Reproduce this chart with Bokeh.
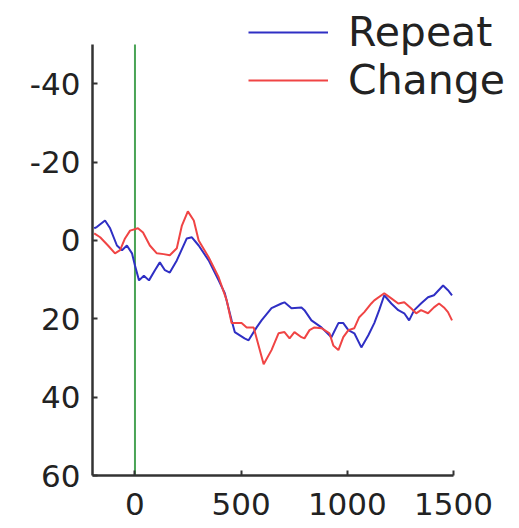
from bokeh.plotting import figure
from bokeh.models import Range1d, FixedTicker, Legend, LegendItem
from bokeh.embed import file_html
from bokeh.resources import INLINE

# Data (time in ms, amplitude)
repeat_x = [-192, -180, -141, -117, -85, -61, -38, -14, 0, 19, 42, 66, 94, 117, 141, 164, 197,
            244, 268, 300, 347, 394, 423, 455, 470, 516, 535, 573, 596, 643, 690, 704, 737,
            784, 798, 831, 878, 925, 958, 981, 1005, 1033, 1066, 1099, 1127, 1150, 1174,
            1207, 1240, 1268, 1291, 1315, 1347, 1380, 1408, 1451, 1474, 1493]
repeat_y = [-3.1, -3.4, -5.1, -3.1, 1.3, 2.5, 1.3, 3.3, 6.4, 10.2, 9.0, 10.2, 7.6, 5.6, 7.6, 8.2, 5.1,
            -0.5, -0.8, 1.3, 5.1, 10.2, 13.5, 20.4, 23.4, 25.0, 25.5, 22.2, 20.4, 17.3, 16.1, 15.8, 17.3,
            17.1, 17.8, 20.4, 22.2, 24.7, 21.1, 21.1, 22.9, 23.7, 27.3, 24.2, 21.1, 17.8, 14.0,
            16.1, 17.8, 18.6, 20.4, 17.8, 16.1, 14.5, 14.0, 11.5, 12.7, 14.0]

change_x = [-192, -164, -127, -94, -70, -47, -23, 14, 38, 70, 103, 135, 164, 197, 221, 249, 277,
            300, 347, 394, 432, 455, 502, 526, 559, 582, 606, 643, 676, 704, 728, 751, 784,
            798, 822, 845, 878, 916, 934, 958, 981, 1005, 1033, 1056, 1080, 1113, 1127, 1174,
            1207, 1240, 1268, 1300, 1324, 1347, 1380, 1408, 1432, 1455, 1474, 1493]
change_y = [-1.8, -0.8, 1.3, 3.3, 2.5, -0.5, -2.5, -3.1, -2.0, 1.3, 3.3, 3.5, 3.8, 2.0, -3.8, -7.4, -5.1,
            0.0, 4.3, 9.4, 15.3, 21.1, 21.1, 22.2, 22.2, 26.8, 31.6, 28.0, 23.7, 23.4, 25.0, 23.4, 24.7,
            25.0, 22.9, 22.2, 22.4, 23.7, 26.8, 28.0, 24.7, 22.9, 22.4, 19.6, 18.3, 16.1, 15.3, 13.5,
            14.8, 16.1, 15.8, 17.3, 18.6, 17.8, 18.6, 17.1, 16.1, 17.1, 18.3, 20.4]

x_ticks = [0, 500, 1000, 1500]
x_tick_labels = ["0", "500", "1000", "1500"]
y_ticks = [-40, -20, 0, 20, 40, 60]
y_tick_labels = ["-40", "-20", "0", "20", "40", "60"]
series_labels = ["Repeat", "Change"]
series_colors = ["#2f2fc4", "#f04444"]
x_limits = (-200, 1500)
y_limits = (-50, 60)          # axis extent (negative up)
stim_onset = 0

FONT = "DejaVu Sans"
W, H = 519, 528
BORDER_L, BORDER_B = 92, 53
TOP_PAD = 44                  # empty space above the y axis (kept inside the frame for the legend)
RIGHT_PAD = 66                # empty space right of the x axis (kept inside the frame for the legend)

frame_h = H - BORDER_B
axis_h = frame_h - TOP_PAD
y_span = y_limits[1] - y_limits[0]
y_top = y_limits[0] - y_span * TOP_PAD / axis_h

frame_w = W - BORDER_L
axis_w = frame_w - RIGHT_PAD
x_span = x_limits[1] - x_limits[0]
x_right = x_limits[1] + x_span * RIGHT_PAD / axis_w

p = figure(width=W, height=H, output_backend="svg", toolbar_location=None,
           x_range=Range1d(x_limits[0], x_right), y_range=Range1d(y_limits[1], y_top),
           min_border_left=BORDER_L, min_border_right=0, min_border_top=0,
           min_border_bottom=BORDER_B)

p.outline_line_color = None
p.xgrid.visible = False
p.ygrid.visible = False
p.background_fill_color = "white"

for ax, ticks, labels, standoff in ((p.xaxis[0], x_ticks, x_tick_labels, 17),
                                    (p.yaxis[0], y_ticks, y_tick_labels, 12)):
    ax.ticker = FixedTicker(ticks=ticks)
    ax.major_label_overrides = {t: s for t, s in zip(ticks, labels)}
    ax.minor_tick_line_color = None
    ax.major_tick_in = 5
    ax.major_tick_out = 0
    ax.major_tick_line_width = 2
    ax.major_tick_line_color = "#333333"
    ax.axis_line_width = 2.5
    ax.axis_line_color = "#333333"
    ax.major_label_text_font = FONT
    ax.major_label_text_font_size = "31px"
    ax.major_label_text_color = "#222222"
    ax.major_label_standoff = standoff
p.yaxis[0].bounds = y_limits
p.xaxis[0].bounds = x_limits

p.segment(x0=[stim_onset], y0=[y_limits[0]], x1=[stim_onset], y1=[y_limits[1]],
          line_color="#4aa456", line_width=2)

r1 = p.line(repeat_x, repeat_y, line_color=series_colors[0], line_width=2)
r2 = p.line(change_x, change_y, line_color=series_colors[1], line_width=2)

legend = Legend(items=[LegendItem(label=series_labels[0], renderers=[r1]),
                       LegendItem(label=series_labels[1], renderers=[r2])],
                location=(156, 371), glyph_width=80, glyph_height=20, label_standoff=20,
                padding=0, spacing=0, margin=0,
                label_text_font=FONT, label_text_font_size="41px", label_text_color="#222222",
                background_fill_alpha=0, border_line_alpha=0)
p.add_layout(legend)

open("out.html", "w").write(file_html(p, INLINE))
